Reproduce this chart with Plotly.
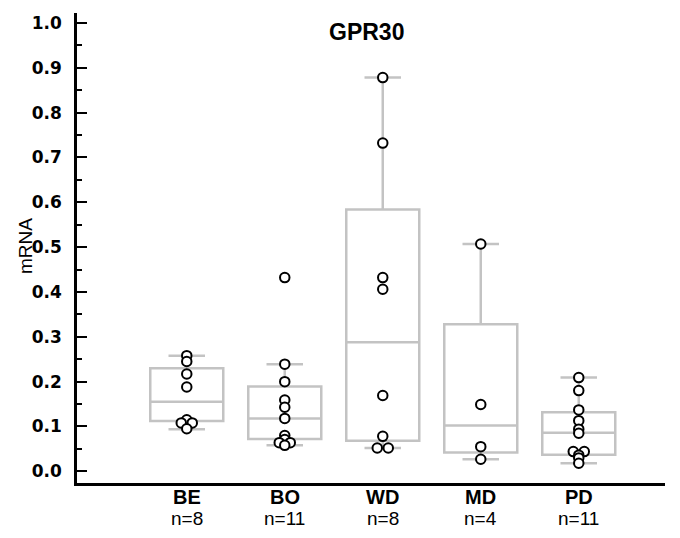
import plotly.graph_objects as go

# Group labels and sample sizes
groups = ["BE", "BO", "WD", "MD", "PD"]
n_labels = ["n=8", "n=11", "n=8", "n=4", "n=11"]

# Individual mRNA measurements per group
be_vals = [0.258, 0.245, 0.217, 0.188, 0.115, 0.108, 0.108, 0.095]
bo_vals = [0.432, 0.239, 0.200, 0.159, 0.143, 0.118, 0.080, 0.071, 0.064, 0.064, 0.058]
wd_vals = [0.878, 0.732, 0.432, 0.406, 0.169, 0.078, 0.052, 0.052]
md_vals = [0.507, 0.149, 0.055, 0.027]
pd_vals = [0.209, 0.180, 0.137, 0.113, 0.094, 0.085, 0.044, 0.044, 0.036, 0.030, 0.018]

# Box summary statistics per group
q1 = [0.112, 0.072, 0.068, 0.042, 0.037]
median = [0.155, 0.118, 0.288, 0.102, 0.086]
q3 = [0.230, 0.189, 0.584, 0.328, 0.132]
lower_whisker = [0.094, 0.058, 0.052, 0.027, 0.018]
upper_whisker = [0.258, 0.239, 0.878, 0.507, 0.209]

y_ticks = [round(0.1 * i, 1) for i in range(11)]

values = [be_vals, bo_vals, wd_vals, md_vals, pd_vals]
positions = list(range(len(groups)))

W, H = 680, 538
margin = dict(l=77, r=15, t=13, b=55)
x_range = [-1.12, 4.88]
y_range = [-0.026, 1.022]
plot_w = W - margin["l"] - margin["r"]
plot_h = H - margin["t"] - margin["b"]
px_per_x = plot_w / (x_range[1] - x_range[0])
px_per_y = plot_h / (y_range[1] - y_range[0])


def swarm_offsets(vals, tol_px=2.0, gap_px=11.0):
    """Spread points with (almost) equal values side by side, centred."""
    order = sorted(range(len(vals)), key=lambda i: -vals[i])
    rows = []
    for i in order:
        if rows and (vals[rows[-1][0]] - vals[i]) * px_per_y <= tol_px:
            rows[-1].append(i)
        else:
            rows.append([i])
    offs = [0.0] * len(vals)
    for row in rows:
        n = len(row)
        for k, i in enumerate(row):
            offs[i] = (k - (n - 1) / 2) * gap_px / px_per_x
    return offs


fig = go.Figure()

fig.add_trace(go.Box(
    x=positions,
    q1=q1, median=median, q3=q3,
    lowerfence=lower_whisker, upperfence=upper_whisker,
    width=0.745,
    whiskerwidth=0.5,
    boxpoints=False,
    fillcolor="rgba(255,255,255,0)",
    line=dict(color="#c3c3c3", width=2.5),
    showlegend=False,
    hoverinfo="skip",
))

pts_x, pts_y = [], []
for pos, vals in zip(positions, values):
    offs = swarm_offsets(vals)
    pts_x += [pos + o for o in offs]
    pts_y += vals

fig.add_trace(go.Scatter(
    x=pts_x, y=pts_y, mode="markers",
    marker=dict(symbol="circle", size=9.5, color="white",
                line=dict(color="black", width=2)),
    showlegend=False,
))

font_family = "Liberation Sans, Arial, sans-serif"
tick_family = "'DejaVu Sans', sans-serif"

annotations = []
for pos, g, n in zip(positions, groups, n_labels):
    annotations.append(dict(x=pos, y=-14 / plot_h,
                            xref="x", yref="paper", text=f"<b>{g}</b>",
                            showarrow=False, yanchor="middle",
                            font=dict(family=font_family, size=20, color="black")))
    annotations.append(dict(x=pos, y=-35 / plot_h, xref="x", yref="paper",
                            text=n, showarrow=False, yanchor="middle",
                            font=dict(family=font_family, size=19, color="black")))

annotations.append(dict(x=(366 - margin["l"]) / plot_w, y=1 - (32 - margin["t"]) / plot_h,
                        xref="paper", yref="paper", text="<b>GPR30</b>",
                        showarrow=False, xanchor="center", yanchor="middle",
                        font=dict(family=font_family, size=23, color="black")))
annotations.append(dict(x=-(margin["l"] - 25) / plot_w, y=1 - (246 - margin["t"]) / plot_h,
                        xref="paper", yref="paper", text="mRNA", textangle=-90,
                        showarrow=False, xanchor="center", yanchor="middle",
                        font=dict(family=font_family, size=19, color="black")))

fig.update_layout(
    width=W, height=H,
    margin=margin,
    paper_bgcolor="white", plot_bgcolor="white",
    annotations=annotations,
    xaxis=dict(range=x_range, showline=True, linecolor="black", linewidth=2.5,
               showticklabels=False, ticks="", showgrid=False, zeroline=False),
    yaxis=dict(range=y_range, showline=True, linecolor="black", linewidth=2.5,
               tickvals=y_ticks, ticktext=[f"{v:.1f}" for v in y_ticks],
               ticks="inside", ticklen=10, tickwidth=1.5, tickcolor="black",
               minor=dict(ticks="inside", ticklen=5, tickwidth=1.5, tickcolor="black",
                          dtick=0.05, tick0=0.05, showgrid=False),
               ticklabelstandoff=9,
               tickfont=dict(family=tick_family, size=17, color="black", weight="bold"),
               showgrid=False, zeroline=False),
)

fig.write_html("out.html")
